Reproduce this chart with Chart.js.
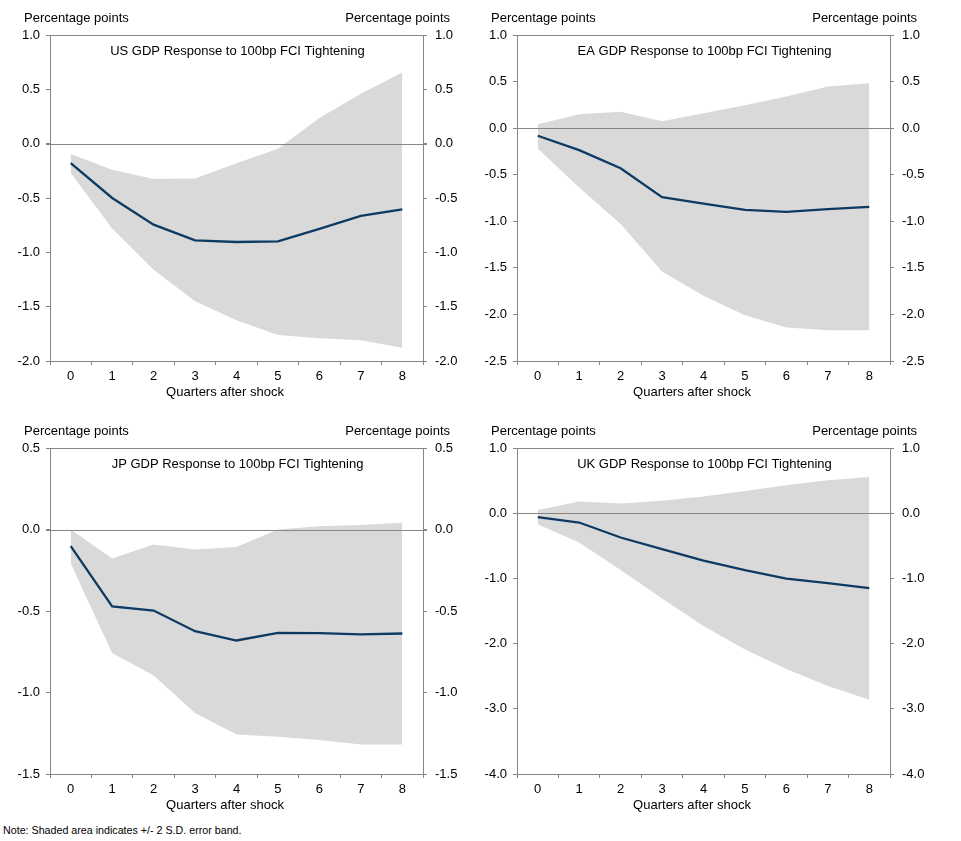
<!DOCTYPE html>
<html>
<head>
<meta charset="utf-8">
<script src="https://cdn.jsdelivr.net/npm/chart.js@4.4.1/dist/chart.umd.min.js"></script>
<style>
  html, body { margin: 0; padding: 0; background: #fff; }
  body { width: 961px; height: 841px; position: relative; overflow: hidden; font-family: "Liberation Sans", Arial, sans-serif; }
  canvas { position: absolute; }
  #note { position: absolute; left: 3px; top: 824px; font-size: 10.7px; color: #000; white-space: nowrap; }
</style>
</head>
<body>
<canvas id="us" width="480" height="410" style="left:0px;top:0px"></canvas>
<canvas id="ea" width="480" height="410" style="left:467px;top:0px"></canvas>
<canvas id="jp" width="480" height="410" style="left:0px;top:413px"></canvas>
<canvas id="uk" width="480" height="410" style="left:467px;top:413px"></canvas>
<div id="note">Note: Shaded area indicates +/- 2 S.D. error band.</div>
<script>
// ---- Data ----
const quarters = ['0', '1', '2', '3', '4', '5', '6', '7', '8'];

const usTitle = 'US GDP Response to 100bp FCI Tightening';
const usResponse = [-0.18, -0.50, -0.745, -0.89, -0.905, -0.90, -0.785, -0.665, -0.605];
const usUpper    = [-0.095, -0.24, -0.325, -0.32, -0.18, -0.046, 0.236, 0.46, 0.656];
const usLower    = [-0.27, -0.78, -1.16, -1.45, -1.625, -1.76, -1.79, -1.81, -1.877];
const usTicks    = { min: -2.0, max: 1.0, step: 0.5 };

const eaTitle = 'EA GDP Response to 100bp FCI Tightening';
const eaResponse = [-0.082, -0.236, -0.43, -0.74, -0.81, -0.877, -0.898, -0.87, -0.845];
const eaUpper    = [0.043, 0.15, 0.175, 0.075, 0.16, 0.247, 0.34, 0.447, 0.483];
const eaLower    = [-0.218, -0.637, -1.03, -1.54, -1.80, -2.01, -2.14, -2.17, -2.17];
const eaTicks    = { min: -2.5, max: 1.0, step: 0.5 };

const jpTitle = 'JP GDP Response to 100bp FCI Tightening';
const jpResponse = [-0.102, -0.472, -0.497, -0.624, -0.681, -0.634, -0.636, -0.644, -0.638];
const jpUpper    = [0.0, -0.178, -0.092, -0.123, -0.108, 0.0, 0.02, 0.027, 0.041];
const jpLower    = [-0.209, -0.757, -0.896, -1.125, -1.258, -1.272, -1.292, -1.319, -1.319];
const jpTicks    = { min: -1.5, max: 0.5, step: 0.5 };

const ukTitle = 'UK GDP Response to 100bp FCI Tightening';
const ukResponse = [-0.061, -0.143, -0.373, -0.552, -0.726, -0.874, -1.002, -1.074, -1.15];
const ukUpper    = [0.05, 0.18, 0.15, 0.19, 0.255, 0.34, 0.43, 0.506, 0.557];
const ukLower    = [-0.169, -0.45, -0.87, -1.31, -1.73, -2.09, -2.39, -2.65, -2.86];
const ukTicks    = { min: -4.0, max: 1.0, step: 1.0 };

const yUnitLabel = 'Percentage points';
const xAxisLabel = 'Quarters after shock';

// ---- Styles ----
const FONT = '"Liberation Sans", Arial, sans-serif';
const AXIS_GREY = '#868686';
const BAND_GREY = '#D9D9D9';
const NAVY = '#0D3A62';

const panelPlugin = {
  id: 'panelDecor',
  beforeDatasetDraw(chart, args) {
    if (args.index !== 0) return;
    const { ctx, chartArea } = chart;
    const y = Math.round(chart.scales.y.getPixelForValue(0)) + 0.5;
    ctx.save();
    ctx.strokeStyle = AXIS_GREY;
    ctx.lineWidth = 1;
    ctx.beginPath();
    ctx.moveTo(chartArea.left - 4, y);
    ctx.lineTo(chartArea.right + 4, y);
    ctx.stroke();
    ctx.restore();
  },
  afterDraw(chart) {
    const { ctx, chartArea } = chart;
    const o = chart.options.plugins.panelDecor;
    ctx.save();
    ctx.strokeStyle = AXIS_GREY;
    ctx.lineWidth = 1;
    ctx.beginPath();
    ctx.moveTo(chartArea.left, Math.round(chartArea.top) + 0.5);
    ctx.lineTo(chartArea.right, Math.round(chartArea.top) + 0.5);
    ctx.stroke();
    ctx.fillStyle = '#000';
    ctx.font = '13px ' + FONT;
    ctx.textBaseline = 'middle';
    ctx.textAlign = 'left';
    ctx.fillText(yUnitLabel, 24, 18.5);
    ctx.textAlign = 'right';
    ctx.fillText(yUnitLabel, 450, 18.5);
    ctx.textAlign = 'center';
    ctx.fillText(o.title, (chartArea.left + chartArea.right) / 2 + 1, 51);
    ctx.fillText(xAxisLabel, 225, chartArea.bottom + 31);
    ctx.restore();
  }
};

function makePanel(id, title, resp, upper, lower, t) {
  const yCommon = {
    type: 'linear',
    min: t.min,
    max: t.max,
    grid: { drawOnChartArea: false, drawTicks: true, tickLength: 4, color: AXIS_GREY },
    border: { display: true, color: AXIS_GREY },
    ticks: {
      stepSize: t.step,
      color: '#000',
      font: { family: FONT, size: 13 },
      callback: (v) => Number(v).toFixed(1)
    }
  };
  new Chart(document.getElementById(id), {
    type: 'line',
    data: {
      labels: quarters,
      datasets: [
        { data: resp, borderColor: NAVY, borderWidth: 2.3, pointRadius: 0, fill: false, tension: 0 },
        { data: upper, borderWidth: 0, borderColor: 'rgba(0,0,0,0)', pointRadius: 0, backgroundColor: BAND_GREY, fill: '+1', tension: 0 },
        { data: lower, borderWidth: 0, borderColor: 'rgba(0,0,0,0)', pointRadius: 0, fill: false, tension: 0 }
      ]
    },
    options: {
      responsive: false,
      animation: false,
      devicePixelRatio: 1,
      layout: { padding: { top: 35, left: 0, right: 0, bottom: 0 } },
      plugins: {
        legend: { display: false },
        tooltip: { enabled: false },
        panelDecor: { title: title }
      },
      scales: {
        x: {
          type: 'category',
          offset: true,
          grid: { offset: true, drawOnChartArea: false, drawTicks: true, tickLength: 4, color: AXIS_GREY },
          border: { display: true, color: AXIS_GREY },
          ticks: { color: '#000', font: { family: FONT, size: 13 }, padding: 4, maxRotation: 0, autoSkip: false },
          title: { display: false },
          afterFit: (s) => { s.height = 49; }
        },
        y: Object.assign({}, yCommon, {
          position: 'left',
          ticks: Object.assign({}, yCommon.ticks, { padding: 6 }),
          afterFit: (s) => { s.width = 50; }
        }),
        y2: Object.assign({}, yCommon, {
          position: 'right',
          ticks: Object.assign({}, yCommon.ticks, { padding: 8 }),
          afterFit: (s) => { s.width = 57; }
        })
      }
    },
    plugins: [panelPlugin]
  });
}

makePanel('us', usTitle, usResponse, usUpper, usLower, usTicks);
makePanel('ea', eaTitle, eaResponse, eaUpper, eaLower, eaTicks);
makePanel('jp', jpTitle, jpResponse, jpUpper, jpLower, jpTicks);
makePanel('uk', ukTitle, ukResponse, ukUpper, ukLower, ukTicks);
</script>
</body>
</html>
